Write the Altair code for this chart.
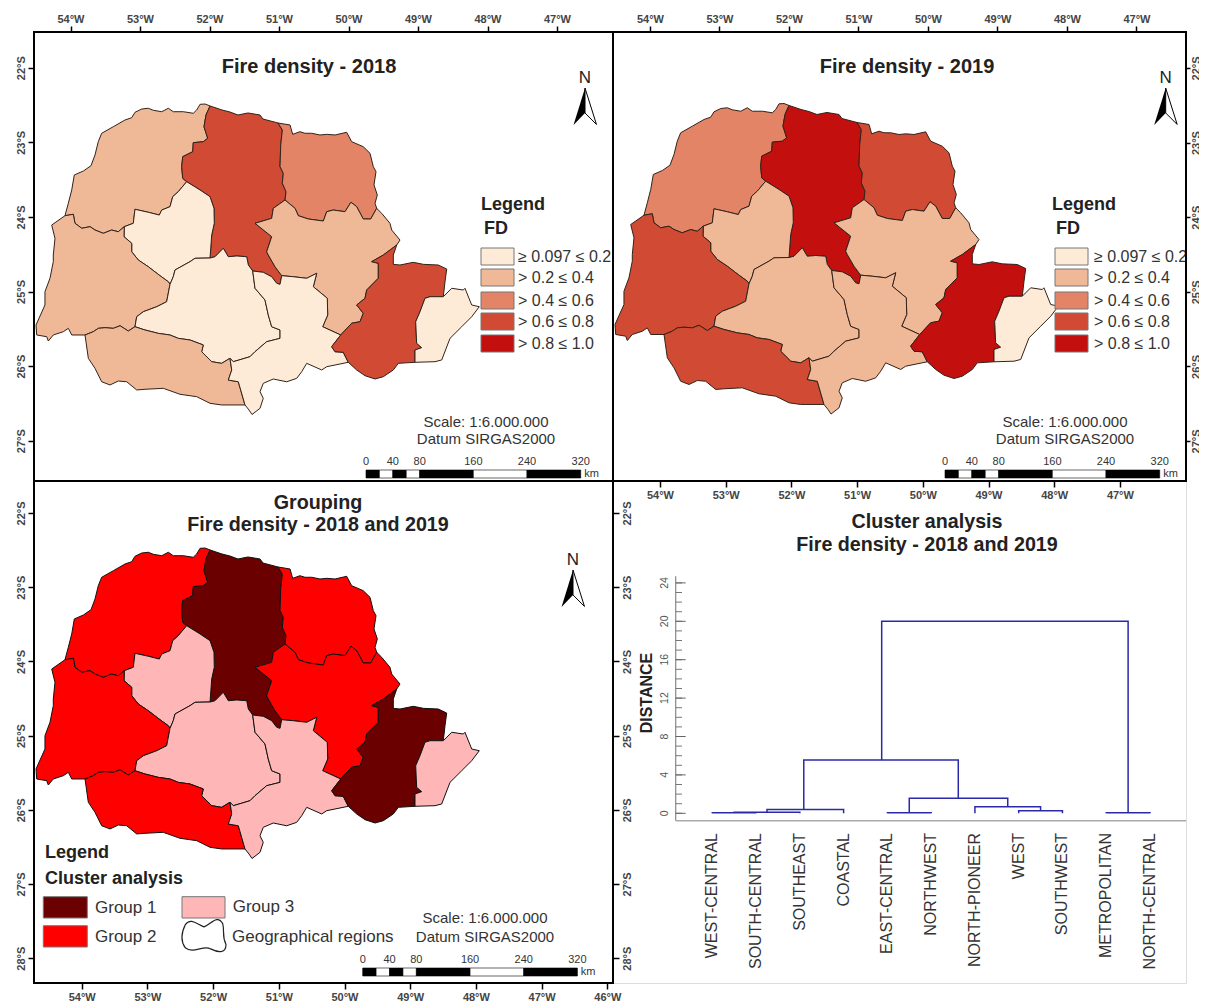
import altair as alt
import pandas as pd

FONT = "Liberation Sans"

# ---- regional borders (longitude, latitude in degrees)
arc_a = [(-54.079,-23.984),(-54.031,-23.818),(-53.982,-23.639),(-53.945,-23.438),(-53.815,-23.385),(-53.705,-23.314),(-53.647,-23.170),(-53.600,-22.992),(-53.551,-22.879),(-53.384,-22.791),(-53.215,-22.701),(-53.119,-22.670),(-53.072,-22.598),(-52.975,-22.554),(-52.880,-22.544),(-52.808,-22.571),(-52.687,-22.590),(-52.592,-22.544),(-52.521,-22.590),(-52.377,-22.590),(-52.233,-22.611),(-52.184,-22.567),(-52.136,-22.491),(-52.064,-22.487),(-51.992,-22.513)]
arc_b = [(-51.992,-22.513),(-52.050,-22.634),(-52.079,-22.791),(-52.026,-22.946),(-52.089,-22.992),(-52.233,-23.005),(-52.241,-23.126),(-52.385,-23.193),(-52.400,-23.327),(-52.385,-23.483),(-52.328,-23.528)]
arc_c = [(-52.328,-23.528),(-52.449,-23.662),(-52.529,-23.729),(-52.568,-23.863),(-52.687,-23.908),(-52.722,-23.975),(-52.880,-23.938),(-53.072,-23.898),(-53.096,-24.086),(-53.226,-24.131)]
arc_d = [(-54.079,-23.984),(-53.959,-23.965),(-53.935,-24.086),(-53.838,-24.153),(-53.719,-24.131),(-53.647,-24.176),(-53.528,-24.220),(-53.407,-24.176),(-53.312,-24.199),(-53.226,-24.131)]
arc_e = [(-53.226,-24.131),(-53.230,-24.265),(-53.119,-24.354),(-53.119,-24.467),(-53.024,-24.578),(-52.880,-24.668),(-52.712,-24.788),(-52.592,-24.869),(-52.568,-24.904)]
arc_f = [(-52.328,-23.528),(-52.136,-23.639),(-51.992,-23.729),(-51.935,-23.885),(-51.931,-24.086),(-51.968,-24.243),(-51.992,-24.551)]
arc_g = [(-51.992,-24.551),(-52.208,-24.555),(-52.280,-24.600),(-52.496,-24.712),(-52.521,-24.802),(-52.568,-24.904)]
arc_h = [(-51.992,-24.551),(-51.921,-24.534),(-51.801,-24.421),(-51.729,-24.534),(-51.608,-24.524),(-51.464,-24.534),(-51.441,-24.645),(-51.378,-24.725)]
arc_i = [(-51.378,-24.725),(-51.226,-24.743),(-51.105,-24.802),(-51.033,-24.890),(-50.985,-24.904),(-50.961,-24.788)]
arc_j = [(-50.961,-24.788),(-51.057,-24.668),(-51.154,-24.511),(-51.177,-24.467),(-51.105,-24.265),(-51.345,-24.086),(-51.105,-24.019),(-51.082,-23.885),(-50.913,-23.774)]
arc_k = [(-51.992,-22.513),(-51.820,-22.567),(-51.705,-22.594),(-51.590,-22.634),(-51.446,-22.607),(-51.273,-22.634),(-51.230,-22.688),(-51.014,-22.741)]
arc_l = [(-51.014,-22.741),(-50.952,-22.835),(-50.975,-23.036),(-50.985,-23.327),(-50.938,-23.416),(-50.952,-23.550),(-50.899,-23.662),(-50.913,-23.774)]
arc_m = [(-51.014,-22.741),(-50.841,-22.768),(-50.803,-22.893),(-50.698,-22.858),(-50.626,-22.879),(-50.529,-22.879),(-50.410,-22.902),(-50.313,-22.893),(-50.194,-22.902),(-50.026,-22.866),(-49.954,-22.992),(-49.787,-23.059),(-49.690,-23.148),(-49.643,-23.327),(-49.604,-23.394),(-49.633,-23.572),(-49.585,-23.706),(-49.618,-23.818),(-49.594,-23.885)]
arc_n = [(-50.913,-23.774),(-50.769,-23.885),(-50.722,-23.984),(-50.578,-24.028),(-50.362,-24.055),(-50.313,-23.930),(-50.218,-23.908),(-50.050,-23.930),(-49.964,-23.804),(-49.882,-23.863),(-49.787,-24.028),(-49.680,-24.028),(-49.594,-23.885)]
arc_o = [(-49.594,-23.885),(-49.522,-23.952),(-49.403,-24.086),(-49.378,-24.176),(-49.259,-24.310),(-49.306,-24.377)]
arc_p = [(-49.306,-24.377),(-49.499,-24.511),(-49.666,-24.600),(-49.571,-24.622),(-49.571,-24.823),(-49.738,-24.980),(-49.762,-25.091),(-49.882,-25.181),(-49.787,-25.292),(-49.834,-25.405),(-49.954,-25.426),(-50.112,-25.583)]
arc_q = [(-50.112,-25.583),(-50.371,-25.472),(-50.299,-25.315),(-50.305,-25.091),(-50.506,-24.936),(-50.457,-24.756),(-50.601,-24.823),(-50.794,-24.802),(-50.961,-24.788)]
arc_r = [(-49.306,-24.377),(-49.355,-24.511),(-49.355,-24.636),(-49.259,-24.645),(-49.068,-24.609),(-48.923,-24.636),(-48.708,-24.645),(-48.587,-24.699),(-48.611,-24.869),(-48.636,-25.070)]
arc_s = [(-48.636,-25.070),(-48.827,-25.070),(-48.899,-25.091),(-48.971,-25.271),(-49.033,-25.405),(-49.019,-25.695),(-48.947,-25.753),(-49.043,-25.784),(-49.043,-25.949)]
arc_t = [(-48.636,-25.070),(-48.515,-24.957),(-48.348,-24.980),(-48.324,-24.957),(-48.227,-25.181),(-48.118,-25.204),(-48.227,-25.338),(-48.371,-25.472),(-48.539,-25.628),(-48.659,-25.918),(-48.755,-25.941),(-49.043,-25.949)]
arc_u = [(-49.043,-25.949),(-49.283,-25.963),(-49.355,-26.052),(-49.499,-26.142),(-49.618,-26.173),(-49.762,-26.129),(-49.882,-26.052),(-50.003,-25.949)]
arc_v = [(-50.112,-25.583),(-50.242,-25.740),(-50.194,-25.807),(-50.075,-25.815),(-50.003,-25.949)]
arc_w = [(-50.003,-25.949),(-50.313,-26.008),(-50.385,-26.052),(-50.601,-25.963),(-50.673,-26.075),(-50.745,-26.164),(-50.889,-26.210),(-51.082,-26.173),(-51.226,-26.231),(-51.273,-26.344),(-51.226,-26.432),(-51.273,-26.566),(-51.388,-26.649),(-51.431,-26.589),(-51.489,-26.521)]
arc_x = [(-51.489,-26.521),(-51.585,-26.210),(-51.729,-26.187),(-51.680,-26.052),(-51.705,-25.895)]
arc_y = [(-51.378,-24.725),(-51.345,-24.957),(-51.201,-25.114),(-51.154,-25.315),(-51.105,-25.472),(-50.985,-25.516),(-50.985,-25.628),(-51.177,-25.673),(-51.345,-25.807),(-51.417,-25.874),(-51.657,-25.941),(-51.705,-25.895)]
arc_z = [(-53.072,-25.472),(-52.928,-25.516),(-52.736,-25.561),(-52.568,-25.583),(-52.449,-25.628),(-52.280,-25.650),(-52.089,-25.717),(-52.112,-25.807),(-51.968,-25.941),(-51.824,-25.963),(-51.705,-25.895)]
arc_aa = [(-52.568,-24.904),(-52.616,-25.137),(-52.759,-25.204),(-52.952,-25.271),(-53.047,-25.338),(-53.072,-25.472)]
arc_ab = [(-53.072,-25.472),(-53.168,-25.530),(-53.287,-25.459),(-53.384,-25.494),(-53.503,-25.485),(-53.600,-25.494),(-53.672,-25.539),(-53.791,-25.583)]
arc_ac = [(-54.079,-23.984),(-54.270,-24.109),(-54.223,-24.287),(-54.247,-24.511),(-54.247,-24.600),(-54.295,-24.823),(-54.367,-25.003),(-54.367,-25.181),(-54.496,-25.449),(-54.486,-25.583),(-54.342,-25.606),(-54.319,-25.664),(-54.247,-25.583),(-54.103,-25.539),(-54.031,-25.494),(-53.982,-25.583),(-53.791,-25.583)]
arc_ad = [(-53.791,-25.583),(-53.743,-25.896),(-53.647,-26.030),(-53.551,-26.210),(-53.431,-26.253),(-53.312,-26.200),(-53.191,-26.210),(-53.047,-26.320),(-52.928,-26.311),(-52.665,-26.298),(-52.424,-26.378),(-52.184,-26.410),(-51.992,-26.499),(-51.824,-26.521),(-51.489,-26.521)]

def rev(a):
    return a[::-1]

regions = {
    "NORTHWEST": arc_a + arc_b + arc_c + rev(arc_d),
    "NORTH-CENTRAL": arc_k + arc_l + rev(arc_j) + rev(arc_i) + rev(arc_h) + rev(arc_f) + rev(arc_b),
    "NORTH-PIONEER": arc_m + rev(arc_n) + rev(arc_l),
    "WEST-CENTRAL": rev(arc_c) + arc_f + arc_g + rev(arc_e),
    "EAST-CENTRAL": arc_n + arc_o + arc_p + arc_q + arc_j,
    "WEST": arc_ac + rev(arc_ab) + rev(arc_aa) + rev(arc_e) + rev(arc_d),
    "SOUTH-CENTRAL": rev(arc_g) + arc_h + arc_y + rev(arc_z) + rev(arc_aa),
    "SOUTHWEST": arc_ab + arc_ad + arc_x + rev(arc_z),
    "SOUTHEAST": arc_i + rev(arc_q) + arc_v + arc_w + arc_x + rev(arc_y),
    "METROPOLITAN": arc_r + arc_s + arc_u + rev(arc_v) + rev(arc_p),
    "COASTAL": arc_t + rev(arc_s),
}

# ---- classes
fd_labels = ["\u2265 0.097 \u2264 0.2", "> 0.2 \u2264 0.4", "> 0.4 \u2264 0.6", "> 0.6 \u2264 0.8", "> 0.8 \u2264 1.0"]
fd_colors = ["#fdebd8", "#efb897", "#e28465", "#d14a33", "#c40f0f"]
fd_2018 = {"NORTHWEST":1,"NORTH-CENTRAL":3,"NORTH-PIONEER":2,"WEST-CENTRAL":0,"EAST-CENTRAL":1,"WEST":1,"SOUTH-CENTRAL":0,"SOUTHWEST":1,"SOUTHEAST":0,"METROPOLITAN":3,"COASTAL":0}
fd_2019 = {"NORTHWEST":2,"NORTH-CENTRAL":4,"NORTH-PIONEER":3,"WEST-CENTRAL":1,"EAST-CENTRAL":1,"WEST":3,"SOUTH-CENTRAL":1,"SOUTHWEST":3,"SOUTHEAST":1,"METROPOLITAN":4,"COASTAL":0}
group_labels = ["Group 1", "Group 2", "Group 3"]
group_colors = ["#6b0000", "#fe0000", "#ffb6b6"]
groups = {"NORTHWEST":1,"NORTH-CENTRAL":0,"NORTH-PIONEER":1,"WEST-CENTRAL":2,"EAST-CENTRAL":1,"WEST":1,"SOUTH-CENTRAL":2,"SOUTHWEST":1,"SOUTHEAST":2,"METROPOLITAN":0,"COASTAL":2}

# ---- dendrogram
leaves = ["WEST-CENTRAL","SOUTH-CENTRAL","SOUTHEAST","COASTAL","EAST-CENTRAL","NORTHWEST","NORTH-PIONEER","WEST","SOUTHWEST","METROPOLITAN","NORTH-CENTRAL"]
# left position, right position, merge distance, left base, right base
merges = [(0,1,.05,0,0),(0.5,2,.1,.05,0),(1.25,3,.4,.1,0),(4,5,.05,0,0),(7,8,.27,0,0),(6,7.5,.69,0,.27),
          (4.5,6.75,1.56,.05,.69),(2.09,5.62,5.55,.4,1.56),(3.87,9.5,20.0,5.55,.05),(9,10,.05,0,0)]
dist_major = [0,4,8,12,16,20,24]
dist_all = list(range(0,25))

# ---- scale bar
bar_km = [0,20,40,60,80,160,240,320]
bar_fill = ["black","white","black","white","black","white","black"]
bar_labels = [0,40,80,160,240,320]

lon_ticks = [-54,-53,-52,-51,-50,-49,-48,-47]
lon_ticks_bl = lon_ticks + [-46]
lat_ticks = [-22,-23,-24,-25,-26,-27]
lat_ticks_bl = lat_ticks + [-28]

# map calibration: degrees per reference pixel
LON_A, LON_B = -55.014, 0.014388
LAT_A, LAT_B = -21.0925, -0.013405

W, H = 1152, 951
W1, H1 = 579, 449
OX, OY = 0, 0


def text(s, x, y, size, bold=False, align="center", angle=0, color="#222222"):
    return alt.Chart(alt.Data(values=[{"t": s}])).mark_text(
        font=FONT, fontSize=size, fontWeight="bold" if bold else "normal",
        align=align, baseline="middle", angle=angle, color=color
    ).encode(x=alt.value(x + OX), y=alt.value(y + OY), text="t:N")


def rect(x, x2, y, y2, fill, stroke="#777777"):
    return alt.Chart(alt.Data(values=[{"a": 1}])).mark_rect(fill=fill, stroke=stroke, strokeWidth=1).encode(
        x=alt.value(x + OX), x2=alt.value(x2 + OX), y=alt.value(y + OY), y2=alt.value(y2 + OY))


def frame(x, x2, y, y2):
    return alt.Chart(alt.Data(values=[{"a": 1}])).mark_rect(fill="white", fillOpacity=0, stroke="black", strokeWidth=2).encode(
        x=alt.value(x), x2=alt.value(x2), y=alt.value(y), y2=alt.value(y2))


def symbol(path, x, y, size, fill, stroke=None, sw=1):
    kw = dict(shape=path, size=size, fill=fill, filled=True, opacity=1)
    if stroke:
        kw.update(stroke=stroke, strokeWidth=sw)
    return alt.Chart(alt.Data(values=[{"a": 1}])).mark_point(**kw).encode(x=alt.value(x + OX), y=alt.value(y + OY))


def north(x, y):
    return [
        text("N", x, y - 28.5, 17, color="#222222"),
        symbol("M0,-1L0.62,0.97L0,0.35Z", x, y, 1369, "white", "black", 1),
        symbol("M0,-1L-0.62,1L0,0.35Z", x, y, 1369, "black"),
    ]


def map_layer(classes, colors, x0, y0, stroke):
    rows = []
    for name, pts in regions.items():
        for i, (lon, lat) in enumerate(pts):
            rows.append({"region": name, "i": i, "lon": lon, "lat": lat, "col": colors[classes[name]]})
    xs = alt.Scale(domain=[LON_A + LON_B * x0, LON_A + LON_B * (x0 + W)], nice=False, zero=False)
    ys = alt.Scale(domain=[LAT_A + LAT_B * (y0 + H), LAT_A + LAT_B * y0], nice=False, zero=False)
    return alt.Chart(pd.DataFrame(rows)).mark_line(stroke=stroke, strokeWidth=1, strokeJoin="round", interpolate="linear").encode(
        x=alt.X("lon:Q", scale=xs, axis=None),
        y=alt.Y("lat:Q", scale=ys, axis=None),
        fill=alt.Fill("col:N", scale=None),
        detail="region:N",
        order="i:Q",
    )


AXIS = dict(domain=False, grid=False, ticks=True, tickColor="black", tickWidth=1.5, tickSize=6, title=None,
            labelFont=FONT, labelFontSize=11, labelFontWeight="bold", labelColor="#444444", labelPadding=2,
            labelOverlap=False)


def axis_x(orient, ticks, px54, per_deg, offset=0):
    dom = [-54 - px54 / per_deg, -54 + (W - px54) / per_deg]
    return alt.Chart(pd.DataFrame({"v": ticks})).mark_point(opacity=0).encode(
        x=alt.X("v:Q", scale=alt.Scale(domain=dom, nice=False, zero=False),
                axis=alt.Axis(orient=orient, offset=offset, values=ticks, labelExpr="abs(datum.value)+'\u00b0W'", **AXIS)))


def axis_y(orient, ticks, px22, per_deg, offset=0, tight=False):
    style = dict(AXIS)
    if tight:
        style.update(tickSize=4, labelPadding=0)
    dom = [-22 - (H - px22) / per_deg, -22 + px22 / per_deg]
    return alt.Chart(pd.DataFrame({"v": ticks})).mark_point(opacity=0).encode(
        y=alt.Y("v:Q", scale=alt.Scale(domain=dom, nice=False, zero=False),
                axis=alt.Axis(orient=orient, offset=offset, values=ticks, labelExpr="abs(datum.value)+'\u00b0S'",
                              labelAngle=270, labelAlign="center", **style)))


KM_PX = 214.7 / 320


def scalebar(x0, y0):
    x = x0 + OX
    xs = alt.Scale(domain=[-x / KM_PX, (W - x) / KM_PX], nice=False, zero=False)
    segs = pd.DataFrame({"a": bar_km[:-1], "b": bar_km[1:], "c": bar_fill})
    bars = alt.Chart(segs).mark_rect(stroke="black", strokeWidth=0.6).encode(
        x=alt.X("a:Q", scale=xs, axis=None), x2="b:Q",
        y=alt.value(y0 + OY), y2=alt.value(y0 + OY + 8),
        fill=alt.Fill("c:N", scale=None))
    labs = alt.Chart(pd.DataFrame({"km": bar_labels})).mark_text(font=FONT, fontSize=11, color="#333333").encode(
        x=alt.X("km:Q", scale=xs, axis=None), y=alt.value(y0 + OY - 8.5), text="km:Q")
    return [bars, labs, text("km", x0 + 225.5, y0 + 4, 11, color="#333333")]


def fd_legend(sx, tx, lx, fx):
    out = [text("Legend", lx, 172.5, 18, True, "left"), text("FD", fx, 197, 18, True, "left")]
    tops = [216, 237, 260, 281, 303]
    for top, col, lab in zip(tops, fd_colors, fd_labels):
        out.append(rect(sx, sx + 33, top, top + 17, col))
        out.append(text(lab, tx, top + 9, 16, False, "left", color="#333333"))
    return out


OX, OY = 0, 0
tl = [
    axis_x("top", lon_ticks, 36.5, 69.5),
    axis_y("left", lat_ticks, 35.7, 74.6),
    map_layer(fd_2018, fd_colors, 34, 32, "#33221a"),
    text("Fire density - 2018", 275, 35, 20, True),
    *north(551, 74.5),
    *fd_legend(447, 484, 447, 450),
    text("Scale: 1:6.000.000", 452, 389.5, 15, color="#333333"),
    text("Datum SIRGAS2000", 452, 407, 15, color="#333333"),
    *scalebar(332, 438),
]

OX, OY = 579, 0
tr = [
    axis_x("top", lon_ticks, 579 + 37, 69.5),
    axis_y("right", lat_ticks, 36, 74.6, tight=True),
    axis_x("bottom", lon_ticks, 579 + 47, 65.7, offset=H1 - H),
    map_layer(fd_2019, fd_colors, 34 - 579, 32.5, "#33221a"),
    text("Fire density - 2019", 294, 35, 20, True),
    *north(552.7, 74.5),
    *fd_legend(442, 481, 439, 443),
    text("Scale: 1:6.000.000", 452, 389.5, 15, color="#333333"),
    text("Datum SIRGAS2000", 452, 407, 15, color="#333333"),
    *scalebar(332, 438),
]

blob = "M-0.85,-0.5C-0.6,-0.85 -0.3,-0.5 0,-0.4C0.3,-0.5 0.6,-1 0.85,-0.55C0.95,-0.2 0.8,0 1,0.4C1,0.85 0.6,0.75 0.3,0.6C0,0.4 -0.5,0.85 -0.85,0.55C-1.1,0.2 -1,-0.2 -0.85,-0.5Z"
OX, OY = 0, 449
bl = [
    axis_x("bottom", lon_ticks_bl, 47.7, 65.7),
    axis_y("left", lat_ticks_bl, 449 + 32, 74.2),
    axis_y("right", lat_ticks_bl, 449 + 32, 74.2, offset=W1 - W),
    map_layer(groups, group_colors, 34, 37 - 449, "#111111"),
    text("Grouping", 284, 22, 19.7, True),
    text("Fire density - 2018 and 2019", 284, 44, 19.7, True),
    *north(539, 107.5),
    text("Legend", 11, 372, 18, True, "left"),
    text("Cluster analysis", 11, 398, 18, True, "left"),
    rect(9.3, 53.3, 415.7, 437, group_colors[0]),
    rect(9.3, 53.3, 444.7, 466, group_colors[1]),
    rect(148, 191, 415.7, 437, group_colors[2]),
    text(group_labels[0], 61, 426.7, 17, color="#333333", align="left"),
    text(group_labels[1], 61, 456, 17, color="#333333", align="left"),
    text(group_labels[2], 198.7, 426, 17, color="#333333", align="left"),
    symbol(blob, 170, 454.7, 1936, "white", "#222222", 1.2),
    text("Geographical regions", 198, 455.7, 17, color="#333333", align="left"),
    text("Scale: 1:6.000.000", 451, 437, 15, color="#333333"),
    text("Datum SIRGAS2000", 451, 456, 15, color="#333333"),
    *scalebar(328.7, 487),
]

# dendrogram panel: leaf 0 at chart px 678.3, 43.77 px per leaf; distance 0 at 781.3 px, 9.6 px per unit
OX, OY = 579, 449
dx = alt.Scale(domain=[-678.3 / 43.77, (W - 678.3) / 43.77], nice=False, zero=False)
dy = alt.Scale(domain=[(781.3 - H) / 9.6, 781.3 / 9.6], nice=False, zero=False)
link_rows = []
for k, (xl, xr, hgt, bl_, br_) in enumerate(merges):
    for s, (px, py) in enumerate([(xl, bl_), (xl, hgt), (xr, hgt), (xr, br_)]):
        link_rows.append({"link": k, "s": s, "pos": px, "dist": py})
links = alt.Chart(pd.DataFrame(link_rows)).mark_line(color="#2a2aa8", strokeWidth=1.5).encode(
    x=alt.X("pos:Q", scale=dx, axis=None), y=alt.Y("dist:Q", scale=dy, axis=None),
    detail="link:N", order="s:Q")
minor = alt.Chart(pd.DataFrame({"d": dist_all})).mark_rule(color="#777777", strokeWidth=1).encode(
    y=alt.Y("d:Q", scale=dy, axis=None), x=alt.value(OX + 62.7), x2=alt.value(OX + 69))
major = alt.Chart(pd.DataFrame({"d": dist_major})).mark_rule(color="#666666", strokeWidth=1).encode(
    y=alt.Y("d:Q", scale=dy, axis=None), x=alt.value(OX + 62.7), x2=alt.value(OX + 72.7))
major_l = alt.Chart(pd.DataFrame({"d": dist_major})).mark_text(font=FONT, fontSize=10.5, color="#555555", angle=270).encode(
    y=alt.Y("d:Q", scale=dy, axis=None), x=alt.value(OX + 52), text="d:Q")
y_line = alt.Chart(pd.DataFrame({"d": [-0.77], "e": [24.7]})).mark_rule(color="#888888", strokeWidth=1.2).encode(
    y=alt.Y("d:Q", scale=dy, axis=None), y2="e:Q", x=alt.value(OX + 62.7))
x_line = alt.Chart(pd.DataFrame({"d": [-0.77]})).mark_rule(color="#aaaaaa", strokeWidth=1.5).encode(
    y=alt.Y("d:Q", scale=dy, axis=None), x=alt.value(OX + 62.7), x2=alt.value(OX + 573))
leaf_l = alt.Chart(pd.DataFrame({"pos": list(range(len(leaves))), "name": leaves})).mark_text(
    font=FONT, fontSize=16, color="#333333", angle=270, align="right", baseline="middle").encode(
    x=alt.X("pos:Q", scale=dx, axis=None), y=alt.value(OY + 352), text="name:N")

br = [
    text("Cluster analysis", 314, 41, 19.7, True),
    text("Fire density - 2018 and 2019", 314, 64, 19.7, True),
    text("DISTANCE", 34, 212, 16, True, angle=270),
    y_line, x_line, minor, major, major_l, links, leaf_l,
]

frames = [frame(0, W1, 0, H1), frame(W1, W, 0, H1), frame(0, W1, H1, H)]

chart = alt.layer(*tl, *tr, *bl, *br, *frames).resolve_scale(x="independent", y="independent").properties(
    width=W, height=H,
    autosize=alt.AutoSizeParams(type="none"),
    padding={"left": 26, "top": 24, "right": 13, "bottom": 19},
).configure_view(stroke="transparent", strokeWidth=0).configure(background="white")

chart.save("out.html", embed_options={"renderer": "svg", "actions": False})
